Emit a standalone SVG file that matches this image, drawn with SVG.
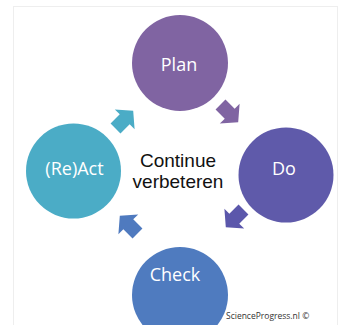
<svg xmlns="http://www.w3.org/2000/svg" width="341" height="325" viewBox="0 0 341 325">
<defs>
<style>
.lbl{font-family:"Open Sans","Liberation Sans",sans-serif;font-size:18px;fill:#ffffff;text-anchor:middle}
.ctr{font-family:"Liberation Sans",Arial,sans-serif;font-size:19px;fill:#111111;text-anchor:middle}
.cr{font-family:"Open Sans","Liberation Sans",sans-serif;font-size:8.5px;fill:#333333}
</style>
<polygon id="arr" points="-12,-7 1,-7 1,-14 13,0 1,14 1,7 -12,7"/>
</defs>
<rect width="341" height="325" fill="#ffffff"/>
<rect x="13.5" y="6.5" width="324" height="330" fill="none" stroke="#eeeeee" stroke-width="1"/>
<g id="connectors">
<use href="#arr" transform="translate(229,113) rotate(45)" fill="#8064a2"/>
<use href="#arr" transform="translate(235,218) rotate(135)" fill="#5b57ab"/>
<use href="#arr" transform="translate(129,225) rotate(225)" fill="#4f7abf"/>
<use href="#arr" transform="translate(124,120) rotate(-45)" fill="#4bacc6"/>
</g>
<g id="plan">
<circle cx="180" cy="63" r="48" fill="#8064a2"/>
<text class="lbl" x="179" y="71">Plan</text>
</g>
<g id="do">
<circle cx="286" cy="175" r="47.5" fill="#5f5aaa"/>
<text class="lbl" x="284" y="175">Do</text>
</g>
<g id="check">
<circle cx="180" cy="295" r="48" fill="#4f7bbf"/>
<text class="lbl" x="175" y="281">Check</text>
</g>
<g id="react">
<circle cx="73.5" cy="171" r="47.5" fill="#4bacc6"/>
<text class="lbl" x="74.5" y="175">(Re)Act</text>
</g>
<g id="center">
<text class="ctr" x="178" y="167">Continue</text>
<text class="ctr" x="178" y="188">verbeteren</text>
</g>
<text class="cr" x="226" y="319">ScienceProgress.nl ©</text>
</svg>
